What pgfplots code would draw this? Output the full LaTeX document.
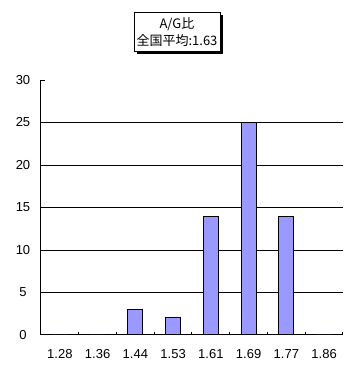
\documentclass[border=0pt]{standalone}
\usepackage{pgfplots}
\pgfplotsset{compat=1.18}
\usepackage{fontspec}
\setmainfont{Liberation Sans}
\newfontfamily\cjk{Noto Sans CJK JP}
\usetikzlibrary{shadows}
\definecolor{barblue}{RGB}{153,153,255}
\begin{document}
\begin{tikzpicture}[x=1pt,y=1pt]
\path[use as bounding box] (0,0) rectangle (358,381);
\begin{axis}[
 at={(41pt,46pt)}, anchor=south west,
 scale only axis, width=302pt, height=255pt,
 xmin=-0.5, xmax=7.5, ymin=0, ymax=30,
 axis x line*=bottom, axis y line*=left,
 axis line style={line width=1pt, -},
 xtick={0,...,7},
 xticklabels={1.28,1.36,1.44,1.53,1.61,1.69,1.77,1.86},
 major x tick style={draw=none},
 minor xtick={-0.5,0.5,...,7.5},
 minor x tick style={line width=1pt, black},
 minor tick length=3pt,
 major tick length=4pt,
 tick align=inside,
 ytick={0,5,...,25},
 extra y ticks={30},
 extra y tick style={grid=none},
 y tick style={line width=1pt, black},
 ymajorgrids,
 major grid style={line width=1pt, black},
 /pgf/number format/assume math mode=true,
 tick label style={font=\fontsize{13}{15}\selectfont},
 xticklabel style={anchor=center, yshift=-19pt},
 yticklabel style={anchor=center, xshift=-18pt},
 clip=false,
]
\addplot[ybar, bar width=0.4, fill=barblue, draw=black, line width=1pt]
 coordinates {(0,0) (1,0) (2,3) (3,2) (4,14) (5,25) (6,14) (7,0)};
\end{axis}
\node[draw, line width=1pt, fill=white, minimum width=86pt, minimum height=39pt,
 align=center, inner sep=1pt,
 drop shadow={shadow xshift=2.5pt, shadow yshift=-2.5pt, fill=black, opacity=1},
 font=\cjk\fontsize{13}{17}\selectfont] at (177,349) {A/G比\\全国平均:1.63};
\end{tikzpicture}
\end{document}
